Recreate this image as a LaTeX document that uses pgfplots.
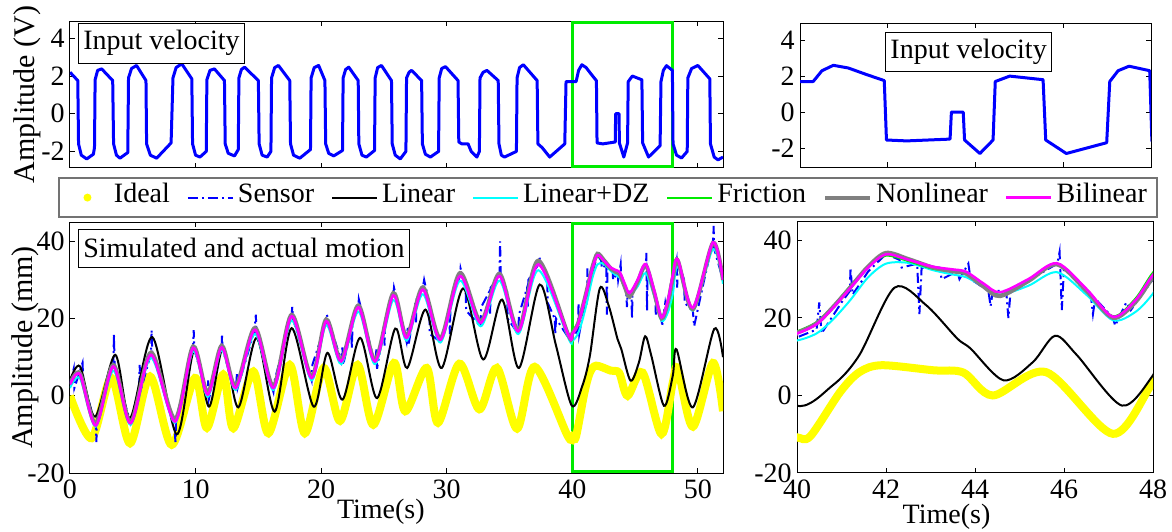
\documentclass[border=0pt]{standalone}
\usepackage{fontspec}
\setmainfont{Liberation Serif}
\usepackage{pgfplots}
\pgfplotsset{compat=1.18}
\usepackage{pgfplotstable}
\definecolor{mgreen}{rgb}{0,0.92,0}
\definecolor{mgray}{rgb}{0.5,0.5,0.5}
\definecolor{myellow}{rgb}{1,1,0}
\definecolor{mcyan}{rgb}{0,1,1}
\definecolor{mmag}{rgb}{1,0,1}
\definecolor{mblue}{rgb}{0,0,1}

\pgfplotsset{
  myaxis/.style={
    scale only axis,
    axis line style={black, line width=0.5pt},
    tick style={black, line width=0.5pt},
    major tick length=2.5pt,
    tick align=inside,
    xtick pos=both, ytick pos=both,
    ticklabel style={font=\fontsize{14}{16}\selectfont},
    yticklabel style={inner xsep=2.5pt},
    label style={font=\fontsize{14}{16}\selectfont},
  },
  legline/.style={legend image code/.code={\draw[##1] (0pt,0pt) -- (22.5pt,0pt);}},
}
\tikzset{box/.style={draw=black, line width=0.5pt, fill=white, anchor=north west, inner xsep=2.5pt, inner ysep=3.5pt, font=\fontsize{14}{16}\selectfont}}

\pgfplotstableread{
t v
0 2.2
0.62 1.76
0.68 -1.6
0.9 -2.2
1.33 -2.4
1.86 -2.15
1.95 -1.8
2.0 1.8
2.2 2.3
2.52 2.38
3.4 1.76
3.47 -1.6
3.7 -2.2
3.98 -2.36
4.6 -2.06
4.66 1.9
4.9 2.4
5.3 2.56
6.05 1.76
6.1 -1.6
6.4 -2.2
6.9 -2.36
8.05 -1.55
8.2 1.9
8.45 2.45
8.9 2.65
9.7 1.85
9.76 -1.6
10.0 -2.2
10.35 -2.3
10.85 -2.0
10.9 1.8
11.15 2.3
11.5 2.38
12.3 1.76
12.36 -1.6
12.6 -2.1
13.1 -2.24
13.4 -1.9
13.45 1.9
13.65 2.35
13.9 2.47
15.0 1.76
15.06 -1.6
15.3 -2.2
15.7 -2.3
16.0 -2.0
16.05 1.9
16.3 2.45
16.6 2.56
17.5 1.76
17.56 -1.6
17.8 -2.2
18.3 -2.36
19.15 -1.9
19.2 1.9
19.45 2.45
19.8 2.56
20.3 1.76
20.36 -1.6
20.6 -2.1
21.0 -2.24
21.7 -1.95
21.75 1.9
21.95 2.35
22.2 2.47
22.95 1.76
23.0 -1.6
23.25 -2.2
23.6 -2.3
24.25 -1.95
24.3 1.9
24.5 2.45
24.8 2.56
25.6 1.76
25.66 -1.6
25.9 -2.2
26.3 -2.4
26.75 -2.0
26.8 1.9
27.0 2.2
27.2 2.3
28.0 1.76
28.06 -1.6
28.3 -2.15
28.7 -2.3
29.35 -2.0
29.4 1.9
29.6 2.4
29.9 2.5
30.9 1.76
30.96 -1.5
31.2 -1.6
31.7 -1.6
31.95 -2.0
32.4 -2.3
32.6 -2.0
32.65 1.9
32.9 2.2
33.2 2.3
34.1 1.76
34.16 -1.6
34.35 -2.2
34.6 -2.3
35.55 -2.0
35.6 1.9
35.8 2.45
36.1 2.6
37.2 1.76
37.26 -1.6
37.6 -1.8
38.2 -2.3
39.4 -1.6
39.5 1.7
40.3 1.7
40.5 2.3
40.76 2.6
41.1 2.45
41.5 2.1
41.92 1.75
41.97 -1.55
42.43 -1.6
43.42 -1.5
43.45 0
43.72 0
43.75 -1.55
44.1 -2.3
44.4 -1.55
44.45 1.7
44.78 2.0
45.54 1.8
45.6 -1.55
46.07 -2.3
46.99 -1.7
47.06 1.7
47.25 2.3
47.5 2.55
47.97 2.3
48.02 -1.6
48.3 -2.2
48.7 -2.35
49.15 -2.0
49.2 1.9
49.5 2.4
50.0 2.56
50.95 1.85
51.0 -1.6
51.3 -2.3
51.6 -2.45
52 -2.3
}\inputdata

\pgfplotstableread{
t v
0 0
1.72 -11
3.3 4.6
4.78 -12.3
6.37 5
8.1 -12.7
9.95 4.6
10.9 -8.3
12.2 5.5
13.0 -8.4
14.6 6.3
15.8 -9.7
17.5 8
18.7 -9.7
20.2 7.2
21.5 -6.5
22.9 8
24.15 -7.5
25.8 8.5
26.7 -4
28.4 7.2
29.3 -7
31.0 8.3
32.6 -3.5
34.0 7.2
35.6 -8.5
37.0 7.5
39.6 -10.2
40.0 -10.8
40.3 -10.5
40.97 0.9
41.4 6
41.9 7.8
43.06 6.5
43.74 5.9
44.4 0
45.6 6
47.1 -9.9
48.0 3.4
48.4 7
49.6 -8
51.2 8.5
52 -4
}\idealdata

\pgfplotstableread{
t v
0 4
0.8 7.6
2.0 -5.4
3.6 10.6
4.78 -5.8
6.55 15.2
8.5 -10
9.9 12
11.07 -2.8
12.2 12.5
13.4 -3.0
14.86 15
16.3 -4.1
17.65 17.5
19.4 -2.8
20.5 11.1
21.7 -1.0
23.1 15
24.45 -0.6
25.9 17.4
26.85 7.2
28.3 22.3
29.6 7.2
31.3 27.8
32.9 9.4
34.4 24.9
35.75 7.2
37.4 28.8
38.7 13
39.95 -2.5
40.8 2.6
41.4 10.4
42.19 27.8
42.9 23.3
43.6 14.7
43.9 12.1
44.64 3.9
45.3 8.6
45.8 15.4
46.29 10.4
47.3 -2.6
48.0 5.2
48.3 12
49.6 -3
51.3 17.3
52 10
}\lineardata

\pgfplotstableread{
t bil non fric dz
0 2.9 3.2 2.9 2.0
0.8 5.5 5.8 5.5 4.5
2.05 -7.7 -7.2 -7.7 -8.0
3.45 7.6 8.0 7.6 6.5
4.83 -7.1 -6.8 -7.1 -7.5
6.45 10.6 11.2 10.6 9.8
8.36 -6.7 -6.0 -6.7 -7.0
9.8 12.4 12.8 12.4 11.5
10.96 0.3 0.8 0.3 -0.3
12.08 12.5 13.0 12.5 11.8
13.2 2.0 2.5 2.0 1.5
14.73 17.1 17.6 17.1 16.0
16.2 2.0 2.5 2.0 1.5
17.65 20.6 21.0 20.6 19.5
19.24 4.6 5.0 4.6 4.0
20.4 19.3 19.8 19.3 18.3
21.6 8.9 9.3 8.9 8.2
22.96 22.9 23.4 22.9 21.8
24.3 8.9 9.3 8.9 8.2
25.74 26.0 26.6 26.0 24.8
26.8 15.0 15.4 15.0 14.3
28.1 27.5 28.1 27.5 26.3
29.5 14.5 14.9 14.5 13.8
31.05 31.0 31.8 31.0 29.8
32.7 18.9 19.3 18.9 18.0
34.2 31.0 31.6 31.0 29.8
35.7 16.7 17.1 16.7 16.0
37.3 34.0 35.0 34.0 32.5
39.7 15.6 15.6 16.0 14.8
40.0 16.0 16.2 16.6 14.2
40.44 18.4 18.6 19.0 16.0
40.8 22.5 22.7 23.0 19.5
41.19 27.6 27.8 28.2 24.5
41.6 33.0 33.3 33.2 30.5
42.0 36.4 36.8 36.0 34.0
42.5 35.0 35.2 34.6 34.2
43.06 33.2 33.0 32.6 32.3
43.5 32.5 32.0 32.0 31.2
43.8 31.9 31.4 31.5 30.5
44.2 28.8 28.0 28.4 28.0
44.56 26.6 25.6 26.0 26.0
45.2 30.0 29.5 29.8 28.3
45.84 34.1 33.8 33.8 31.8
46.5 27.5 27.0 27.4 26.0
47.1 20.3 20.0 20.5 19.4
47.6 24.5 24.0 25.0 21.5
48.0 31.1 30.4 31.8 26.3
48.4 35.3 35.0 35.5 33.5
49.6 22.8 22.4 22.8 22.0
51.2 39.7 39.6 39.7 38.0
52.0 30.0 30.0 30.0 29.0
}\modeldata

\pgfplotstableread{
t v
0 3
0.3 7
0.35 2
0.8 6.5
1.0 8.5
1.05 4
2.05 -8
2.1 -12
2.15 -6
3.0 4
3.45 7.5
3.5 16
3.55 8
4.0 2
4.83 -7
5.5 2
5.55 8
5.6 1
6.45 11
6.5 17
6.55 11
8.3 -7
8.4 -12
8.45 -6
9.4 6
9.8 13
9.85 17
9.9 12
10.96 0
11.0 4
11.05 -1
12.08 13
12.1 16
12.15 12
13.2 1
13.3 6
13.35 2
14.7 17
14.8 21
14.85 16
16.2 1
16.3 4
17.65 21
17.7 23
17.75 20
19.24 4
19.3 8
20.4 19
20.45 21
21.6 9
21.7 13
21.75 8
22.4 17
22.45 12
22.5 19
22.96 23
23.0 25
24.3 8
24.4 12
24.45 7
25.0 18
25.05 13
25.1 20
25.74 26
25.8 28
26.8 14
26.9 18
26.95 13
27.5 24
27.55 19
27.6 25
28.1 28
28.2 30
28.6 24
28.65 16
29.5 14
30.2 22
30.25 16
30.3 24
31.05 31
31.1 33
31.5 28
31.55 22
32.7 18
32.75 23
33.4 27
33.45 21
33.5 28
34.2 31
34.25 40
34.3 30
34.8 27
34.85 20
35.7 16
35.75 21
36.4 28
36.45 23
36.5 30
37.3 34
37.35 36
38.0 30
38.05 24
38.6 20
38.65 16
38.7 20
39.6 15.5
40.0 15
40.44 17
40.5 24
40.55 16
41.0 24
41.19 27
41.2 33
41.25 26
41.6 32
42.0 36.5
42.3 35
42.35 33
42.7 34
42.75 21
42.8 33
43.2 33
43.25 30
43.6 32
43.65 30
43.85 34
43.9 30
44.3 27
44.35 23
44.4 27
44.7 27
44.75 20
44.8 27
45.1 29
45.85 34
45.9 37
45.95 22
46.0 33
46.6 26
46.65 21
46.7 25
47.1 20
47.15 18
47.4 24
47.5 22
48.0 30
48.3 35
48.35 28
48.4 35
48.9 30
48.95 24
49.6 22
49.7 18
50.5 30
51.2 40
51.25 44
51.3 38
52 30
}\sensordata

\begin{document}
\begin{tikzpicture}
\useasboundingbox (0,0) rectangle (586pt,-265.5pt);

% ---------- top-left: input velocity ----------
\begin{axis}[myaxis, at={(35pt,-10.5pt)}, anchor=north west,
  width=326.5pt, height=73.5pt,
  xmin=0, xmax=52, ymin=-2.88, ymax=4.92,
  xtick={10,20,30,40,50}, xticklabels={},
  ytick={-2,0,2,4}, yticklabels={-2,0,2,4},
  ylabel={Amplitude (V)},
  ylabel style={at={(axis description cs:-0.066,0.5)}, anchor=center, font=\fontsize{15}{17}\selectfont}]
\draw[mgreen, line width=1.5pt] (axis cs:40,-2.8) rectangle (axis cs:48,4.84);
\addplot[mblue, line width=1.5pt, line join=round] table[x=t,y=v] {\inputdata};
\node[box] at (rel axis cs:0.012,0.986) {Input velocity};
\end{axis}

% ---------- top-right: input velocity zoom ----------
\begin{axis}[myaxis, at={(400pt,-11.5pt)}, anchor=north west,
  width=175.5pt, height=72pt,
  xmin=40, xmax=48, ymin=-3.05, ymax=4.95,
  xtick={42,44,46}, xticklabels={},
  ytick={-2,0,2,4}, yticklabels={-2,0,2,4}]
\addplot[mblue, line width=1.5pt, line join=round] table[x=t,y=v] {\inputdata};
\node[box] at (rel axis cs:0.242,0.9375) {Input velocity};
\end{axis}

% ---------- bottom-left: motion ----------
\begin{axis}[myaxis, at={(35pt,-111pt)}, anchor=north west,
  width=326.5pt, height=125.5pt,
  xmin=0, xmax=52, ymin=-20, ymax=45,
  xtick={0,10,20,30,40,50}, xticklabels={0,10,20,30,40,50},
  ytick={-20,0,20,40}, yticklabels={-20,0,20,40},
  xlabel={Time(s)},
  xlabel style={at={(axis description cs:0.476,-0.155)}, anchor=center},
  ylabel={Amplitude (mm)},
  ylabel style={at={(axis description cs:-0.069,0.5)}, anchor=center, font=\fontsize{15}{17}\selectfont},
  legend columns=7,
  legend cell align=left,
  legend style={at={(axis description cs:-0.0184,1.179)}, anchor=north west,
    draw=black!55, line width=1pt, fill=white,
    font=\fontsize{14}{16}\selectfont,
    inner xsep=3pt, inner ysep=4pt,
    nodes={inner xsep=2pt, inner ysep=1pt, text height=0.7em, text depth=0.25em},
    /tikz/every even column/.append style={column sep=6.5pt}}]
\draw[mgreen, line width=1.5pt] (axis cs:40,-19.6) rectangle (axis cs:48,44.6);
\addplot[myellow, line width=4pt, smooth, legend image code/.code={\path[draw=none,fill=none] (0pt,0pt) -- (22.5pt,0pt); \path[fill=myellow, draw=none] (11.25pt,0pt) circle (2pt);}] table[x=t,y=v] {\idealdata};
\addlegendentry{Ideal}
\addplot[mblue, line width=1pt, dash pattern=on 5pt off 2pt on 1pt off 2pt, legline] table[x=t,y=v] {\sensordata};
\addlegendentry{Sensor}
\addplot[black, line width=1pt, smooth, legline] table[x=t,y=v] {\lineardata};
\addlegendentry{Linear}
\addplot[mcyan, line width=1pt, smooth, legline] table[x=t,y=dz] {\modeldata};
\addlegendentry{Linear+DZ}
\addplot[mgreen, line width=0.8pt, smooth, legend image code/.code={\draw[mgreen, line width=1pt] (0pt,0pt) -- (22.5pt,0pt);}] table[x=t,y=fric] {\modeldata};
\addlegendentry{Friction}
\addplot[mgray, line width=2pt, smooth, legline] table[x=t,y=non] {\modeldata};
\addlegendentry{Nonlinear}
\addplot[mmag, line width=1.3pt, smooth, legline] table[x=t,y=bil] {\modeldata};
\addlegendentry{Bilinear}
\node[box, inner ysep=4.5pt] at (rel axis cs:0.012,0.972) {Simulated and actual motion};
\end{axis}

% ---------- bottom-right: motion zoom ----------
\begin{axis}[myaxis, at={(398.5pt,-110.5pt)}, anchor=north west,
  width=178pt, height=126pt,
  xmin=40, xmax=48, ymin=-20, ymax=45,
  xtick={40,42,44,46,48}, xticklabels={40,42,44,46,48},
  ytick={-20,0,20,40}, yticklabels={-20,0,20,40},
  xlabel={Time(s)},
  xlabel style={at={(axis description cs:0.42,-0.175)}, anchor=center}]
\addplot[myellow, line width=4pt, smooth] table[x=t,y=v] {\idealdata};
\addplot[mblue, line width=1pt, dash pattern=on 5pt off 2pt on 1pt off 2pt] table[x=t,y=v] {\sensordata};
\addplot[black, line width=1pt, smooth] table[x=t,y=v] {\lineardata};
\addplot[mcyan, line width=1pt, smooth] table[x=t,y=dz] {\modeldata};
\addplot[mgreen, line width=0.8pt, smooth] table[x=t,y=fric] {\modeldata};
\addplot[mgray, line width=2pt, smooth] table[x=t,y=non] {\modeldata};
\addplot[mmag, line width=1.3pt, smooth] table[x=t,y=bil] {\modeldata};
\end{axis}
\end{tikzpicture}
\end{document}
